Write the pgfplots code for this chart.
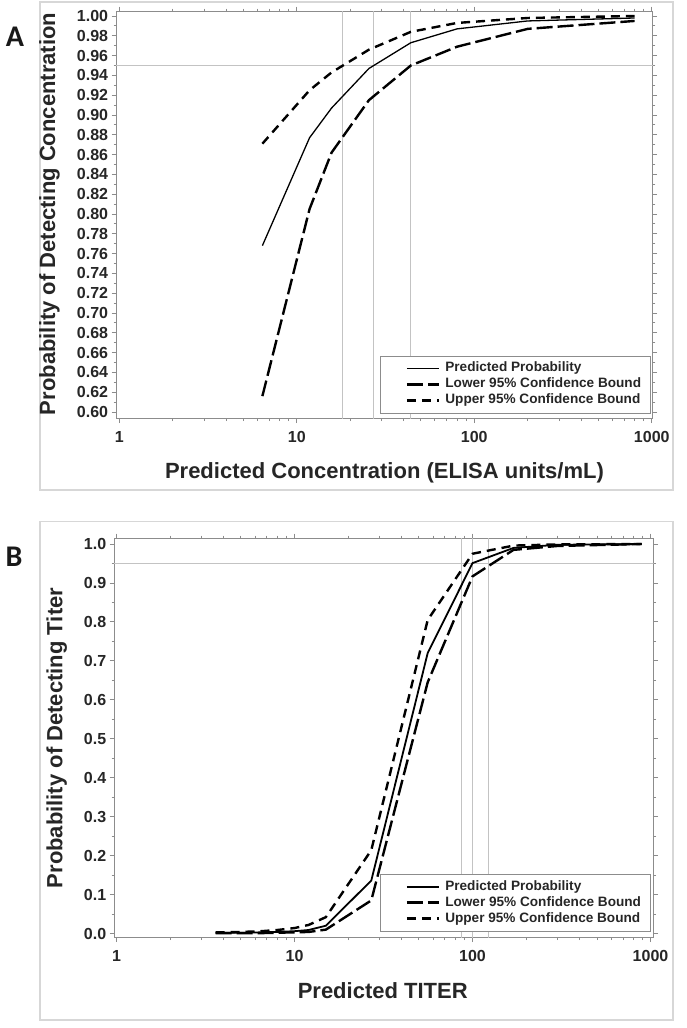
\documentclass[border=0pt]{standalone}
\usepackage{fontspec}
\setmainfont{Liberation Sans}
\newfontfamily\carlito{Carlito}
\usepackage{pgfplots}
\pgfplotsset{compat=1.18}

\definecolor{refgray}{RGB}{195,195,195}
\definecolor{boxgray}{RGB}{140,140,140}
\definecolor{framegray}{RGB}{215,215,215}

\tikzset{
  pred/.style={black, line width=1.3pt, solid},
  predb/.style={black, line width=1.8pt, solid},
  lowb/.style={black, line width=2.4pt, dash pattern=on 16pt off 5pt},
  uppb/.style={black, line width=2.4pt, dash pattern=on 9pt off 6pt},
  refl/.style={refgray, line width=1pt},
}

\begin{document}
\begin{tikzpicture}
\path[use as bounding box] (0pt,0pt) rectangle (686pt,-1028pt);
\draw[framegray, line width=1.2pt] (40pt,-2pt) rectangle (673pt,-490pt);
\draw[framegray, line width=1.2pt] (40pt,-521.5pt) rectangle (673pt,-1020pt);
\node[font=\carlito\bfseries\fontsize{30}{30}\selectfont, text=black!90] at (15pt,-37pt) {A};
\node[font=\carlito\bfseries\fontsize{30}{30}\selectfont, text=black!90] at (14pt,-557pt) {B};

% ---------------- Panel A ----------------
\begin{axis}[
  scale only axis,
  xmode=log,
  axis line style={boxgray, line width=1pt},
  tick style={boxgray, line width=0.9pt},
  tick align=outside,
  major tick length=4.5pt, minor tick length=2.5pt,
  xtick={1,10,100,1000},
  xticklabels={1,10,100,1000},
  tick label style={font=\bfseries\fontsize{16}{16}\selectfont, text=black!85},
  /pgf/number format/assume math mode=true,
  label style={font=\bfseries\fontsize{22}{22}\selectfont, text=black!85},
  xticklabel style={yshift=-5pt},
  legend cell align=left,
  legend image code/.code={\path[draw=none] (0pt,0pt) -- (56pt,0pt); \draw[#1] (19pt,0pt) -- (51pt,0pt);},
  legend style={draw=boxgray, fill=white,
    font=\bfseries\fontsize{13.6}{14}\selectfont, text=black!85,
    inner xsep=8pt, inner ysep=4.5pt, row sep=0pt,
    nodes={inner sep=1.5pt, text height=10pt, text depth=3pt},
    at={(0.9963,0.0135)}, anchor=south east},
  at={(119.3pt,-418.5pt)}, anchor=origin,
  width=536.7pt, height=407.5pt,
  xmin=0.959, xmax=1013,
  ymin=0.5934, ymax=1.00505,
  ytick={0.60,0.62,...,1.001},
  minor ytick={0.61,0.63,...,0.992},
  minor xtick={},
  yticklabel style={/pgf/number format/fixed, /pgf/number format/fixed zerofill, /pgf/number format/precision=2},
  xlabel={Predicted Concentration (ELISA units/mL)},
  ylabel={Probability of Detecting Concentration},
  xlabel style={at={(axis description cs:0.5,-0.1337)}, anchor=center},
  ylabel style={at={(axis description cs:-0.1240,0.502)}, anchor=center},
]
\addplot[refl, forget plot] coordinates {(18.1,0.5) (18.1,1.1)};
\addplot[refl, forget plot] coordinates {(26.9,0.5) (26.9,1.1)};
\addplot[refl, forget plot] coordinates {(43.6,0.5) (43.6,1.1)};
\addplot[refl, forget plot] coordinates {(0.5,0.95) (2000,0.95)};

\addplot[pred] coordinates {(6.4,0.768)(11.8,0.877)(15.7,0.907)(25.5,0.947)(43.9,0.973)(80,0.987)(200,0.995)(800,0.998)};
\addlegendentry{Predicted Probability}
\addplot[lowb] coordinates {(6.4,0.616)(11.8,0.805)(15.7,0.862)(25.5,0.915)(43.9,0.950)(80,0.969)(200,0.987)(800,0.995)};
\addlegendentry{Lower 95\% Confidence Bound}
\addplot[uppb] coordinates {(6.4,0.871)(11.8,0.925)(15.7,0.943)(25.5,0.966)(43.9,0.984)(80,0.993)(200,0.998)(800,1.000)};
\addlegendentry{Upper 95\% Confidence Bound}
\end{axis}

% ---------------- Panel B ----------------
\begin{axis}[
  scale only axis,
  xmode=log,
  axis line style={boxgray, line width=1pt},
  tick style={boxgray, line width=0.9pt},
  tick align=outside,
  major tick length=4.5pt, minor tick length=2.5pt,
  xtick={1,10,100,1000},
  xticklabels={1,10,100,1000},
  tick label style={font=\bfseries\fontsize{16}{16}\selectfont, text=black!85},
  /pgf/number format/assume math mode=true,
  label style={font=\bfseries\fontsize{22}{22}\selectfont, text=black!85},
  xticklabel style={yshift=-5pt},
  legend cell align=left,
  legend image code/.code={\path[draw=none] (0pt,0pt) -- (56pt,0pt); \draw[#1] (19pt,0pt) -- (51pt,0pt);},
  legend style={draw=boxgray, fill=white,
    font=\bfseries\fontsize{13.6}{14}\selectfont, text=black!85,
    inner xsep=8pt, inner ysep=4.5pt, row sep=0pt,
    nodes={inner sep=1.5pt, text height=10pt, text depth=3pt},
    at={(0.9944,0.0155)}, anchor=south east},
  at={(116.5pt,-933.5pt)}, anchor=origin,
  width=539.5pt, height=399.5pt,
  xmin=0.971, xmax=1042,
  ymin=-0.0103, ymax=1.0154,
  ytick={0,0.1,...,1.01},
  minor ytick={0.05,0.15,...,0.96},
  minor xtick={2,3,4,5,6,7,8,9,20,30,40,50,60,70,80,90,200,300,400,500,600,700,800,900},
  yticklabel style={/pgf/number format/fixed, /pgf/number format/fixed zerofill, /pgf/number format/precision=1},
  xlabel={Predicted TITER},
  ylabel={Probability of Detecting Titer},
  xlabel style={at={(axis description cs:0.4977,-0.1332)}, anchor=center},
  ylabel style={at={(axis description cs:-0.1066,0.4994)}, anchor=center},
]
\addplot[refl, forget plot] coordinates {(87.1,-0.1) (87.1,1.1)};
\addplot[refl, forget plot] coordinates {(99.8,-0.1) (99.8,1.1)};
\addplot[refl, forget plot] coordinates {(122.3,-0.1) (122.3,1.1)};
\addplot[refl, forget plot] coordinates {(0.5,0.95) (2000,0.95)};

\addplot[predb] coordinates {(3.6,0.002)(5,0.002)(6.5,0.003)(8,0.004)(10,0.006)(12,0.009)(15,0.020)(27,0.136)(56,0.720)(100,0.951)(170,0.990)(300,0.998)(890,1.000)};
\addlegendentry{Predicted Probability}
\addplot[lowb] coordinates {(3.6,0.001)(5,0.001)(6.5,0.001)(8,0.002)(10,0.003)(12,0.004)(15,0.010)(27,0.085)(56,0.645)(100,0.917)(170,0.985)(300,0.995)(890,1.000)};
\addlegendentry{Lower 95\% Confidence Bound}
\addplot[uppb] coordinates {(3.6,0.003)(5,0.004)(6.5,0.006)(8,0.009)(10,0.014)(12,0.022)(15,0.042)(27,0.214)(56,0.805)(100,0.975)(170,0.996)(300,0.999)(890,1.000)};
\addlegendentry{Upper 95\% Confidence Bound}
\end{axis}
\end{tikzpicture}
\end{document}
